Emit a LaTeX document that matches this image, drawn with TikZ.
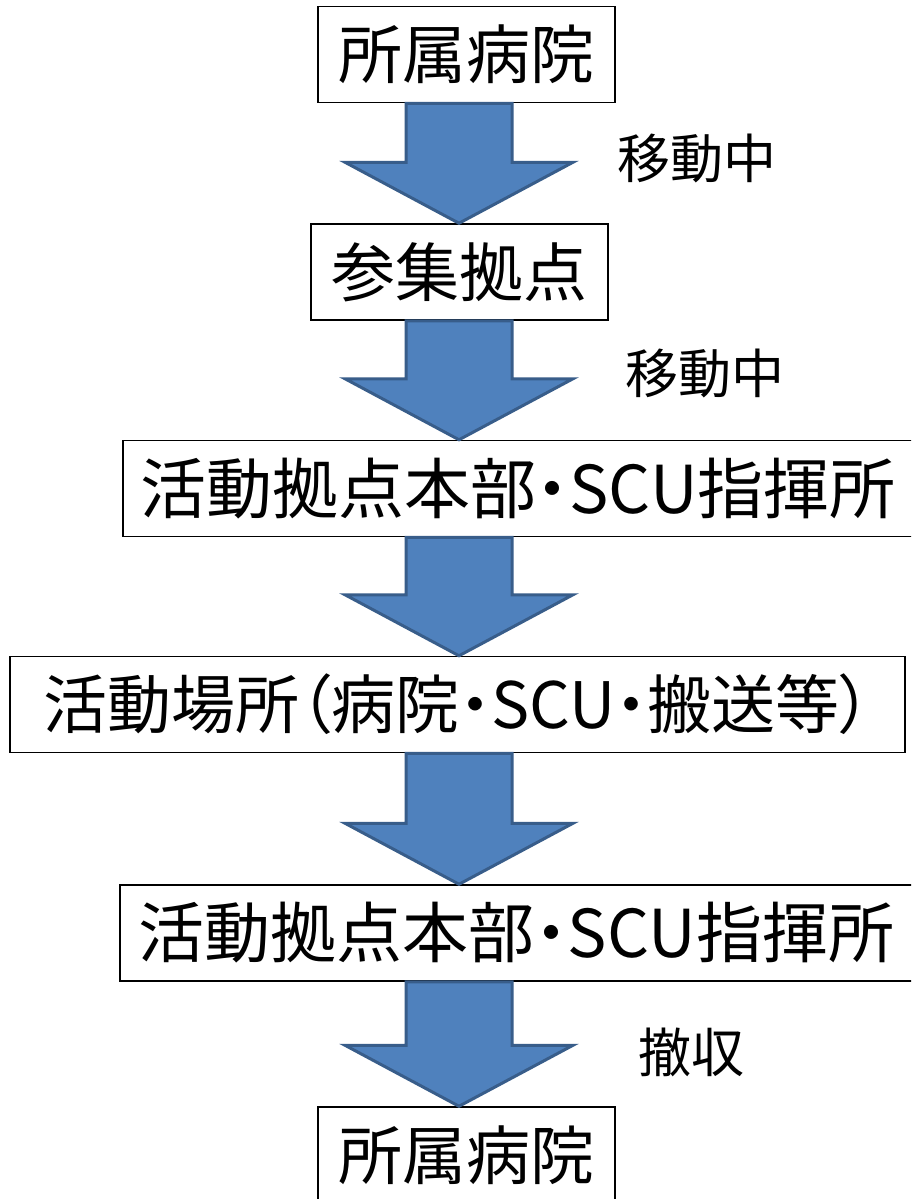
\documentclass[tikz,border=0pt]{standalone}
\usepackage{fontspec}
\setmainfont{Noto Sans CJK JP}[RawFeature=+palt]
\usetikzlibrary{calc}
\definecolor{arrowfill}{HTML}{4F81BD}
\definecolor{arrowline}{HTML}{385D8A}
\newcommand\blkarrow[2]{%
  \draw[blk] (#1.south -| sl) -- (#1.south -| sr)
    -- ($(#2.north -| sr)+(0,-61)$) -- ($(#2.north -| hr)+(0,-61)$)
    -- (#2.north -| tip)
    -- ($(#2.north -| hl)+(0,-61)$) -- ($(#2.north -| sl)+(0,-61)$) -- cycle;}
\begin{document}
\begin{tikzpicture}[x=1pt,y=-1pt,
  box/.style={draw=black,line width=1.5pt,fill=white,inner sep=0pt,minimum height=96pt,font=\fontsize{64}{64}\selectfont,anchor=center},
  wide/.style={font=\fontsize{66}{66}\selectfont},
  widest/.style={font=\fontsize{64}{64}\selectfont},
  lbl/.style={font=\fontsize{53}{53}\selectfont,inner sep=0pt},
  blk/.style={fill=arrowfill,draw=arrowline,line width=3pt,line join=miter}]
\useasboundingbox (0,0) rectangle (911,1199);
\clip (0,0) rectangle (911,1199);
\fill[white] (0,0) rectangle (911,1199);
\coordinate (sl) at (406,0);
\coordinate (sr) at (512,0);
\coordinate (hl) at (345,0);
\coordinate (hr) at (573,0);
\coordinate (tip) at (459,0);
\node[box,minimum width=297pt] (b1) at (466.5,54.5) {所属病院};
\node[box,minimum width=297pt] (b2) at (459.5,272) {参集拠点};
\node[box,wide,minimum width=790pt] (b3) at (518,488.5) {活動拠点本部・SCU指揮所};
\node[box,widest,minimum width=895pt] (b4) at (457.5,704.5) {活動場所（病院・SCU・搬送等）};
\node[box,wide,minimum width=793pt] (b5) at (516.5,933) {活動拠点本部・SCU指揮所};
\node[box,minimum width=297pt] (b6) at (466.5,1155) {所属病院};
\blkarrow{b1}{b2}
\blkarrow{b2}{b3}
\blkarrow{b3}{b4}
\blkarrow{b4}{b5}
\blkarrow{b5}{b6}
\node[lbl] (l1) at (697,158) {移動中};
\node[lbl] (l2) at (705,373) {移動中};
\node[lbl] (l3) at (691,1052) {撤収};
\end{tikzpicture}
\end{document}
